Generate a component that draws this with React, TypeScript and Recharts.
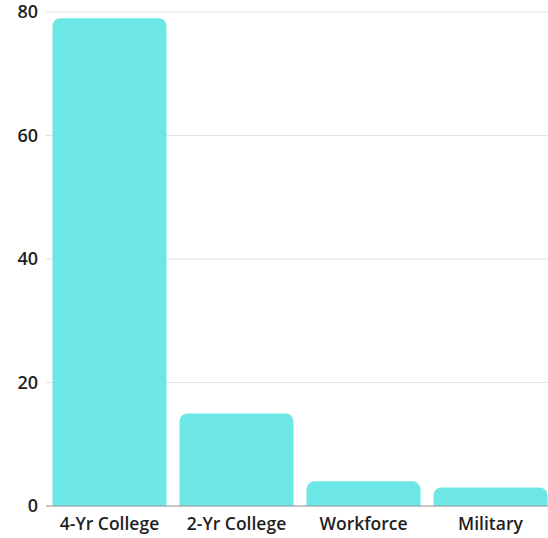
import { BarChart, Bar, XAxis, YAxis, CartesianGrid } from 'recharts';

const categories = ['4-Yr College', '2-Yr College', 'Workforce', 'Military'];
const percentages = [79, 15, 4, 3];
const yTicks = [0, 20, 40, 60, 80];

const data = categories.map((name, i) => ({ name, value: percentages[i] }));

const font = '"Open Sans", Lato, sans-serif';

export default function App() {
  return (
    <div style={{ position: 'absolute', left: 0, top: 0, width: 548, height: 538, overflow: 'hidden', background: '#fff' }}>
      <BarChart
        width={560}
        height={538}
        data={data}
        margin={{ top: 12, right: 6, bottom: 2, left: 0 }}
        barCategoryGap={6.5}
      >
        <CartesianGrid vertical={false} stroke="#e2e2e2" />
        <XAxis
          dataKey="name"
          height={30}
          tickLine={false}
          tickSize={0}
          tickMargin={12}
          axisLine={{ stroke: '#9a9a9a' }}
          tick={{ fontSize: 17.5, fill: '#1f1f1f', fontFamily: font, fontWeight: 600 }}
        />
        <YAxis
          width={46}
          domain={[0, 80]}
          ticks={yTicks}
          axisLine={false}
          tickLine={false}
          tickSize={0}
          tickMargin={8}
          tick={{ fontSize: 18, fill: '#1f1f1f', fontFamily: font, fontWeight: 600 }}
        />
        <Bar dataKey="value" fill="#6de6e6" radius={[8, 8, 0, 0]} isAnimationActive={false} />
      </BarChart>
    </div>
  );
}
